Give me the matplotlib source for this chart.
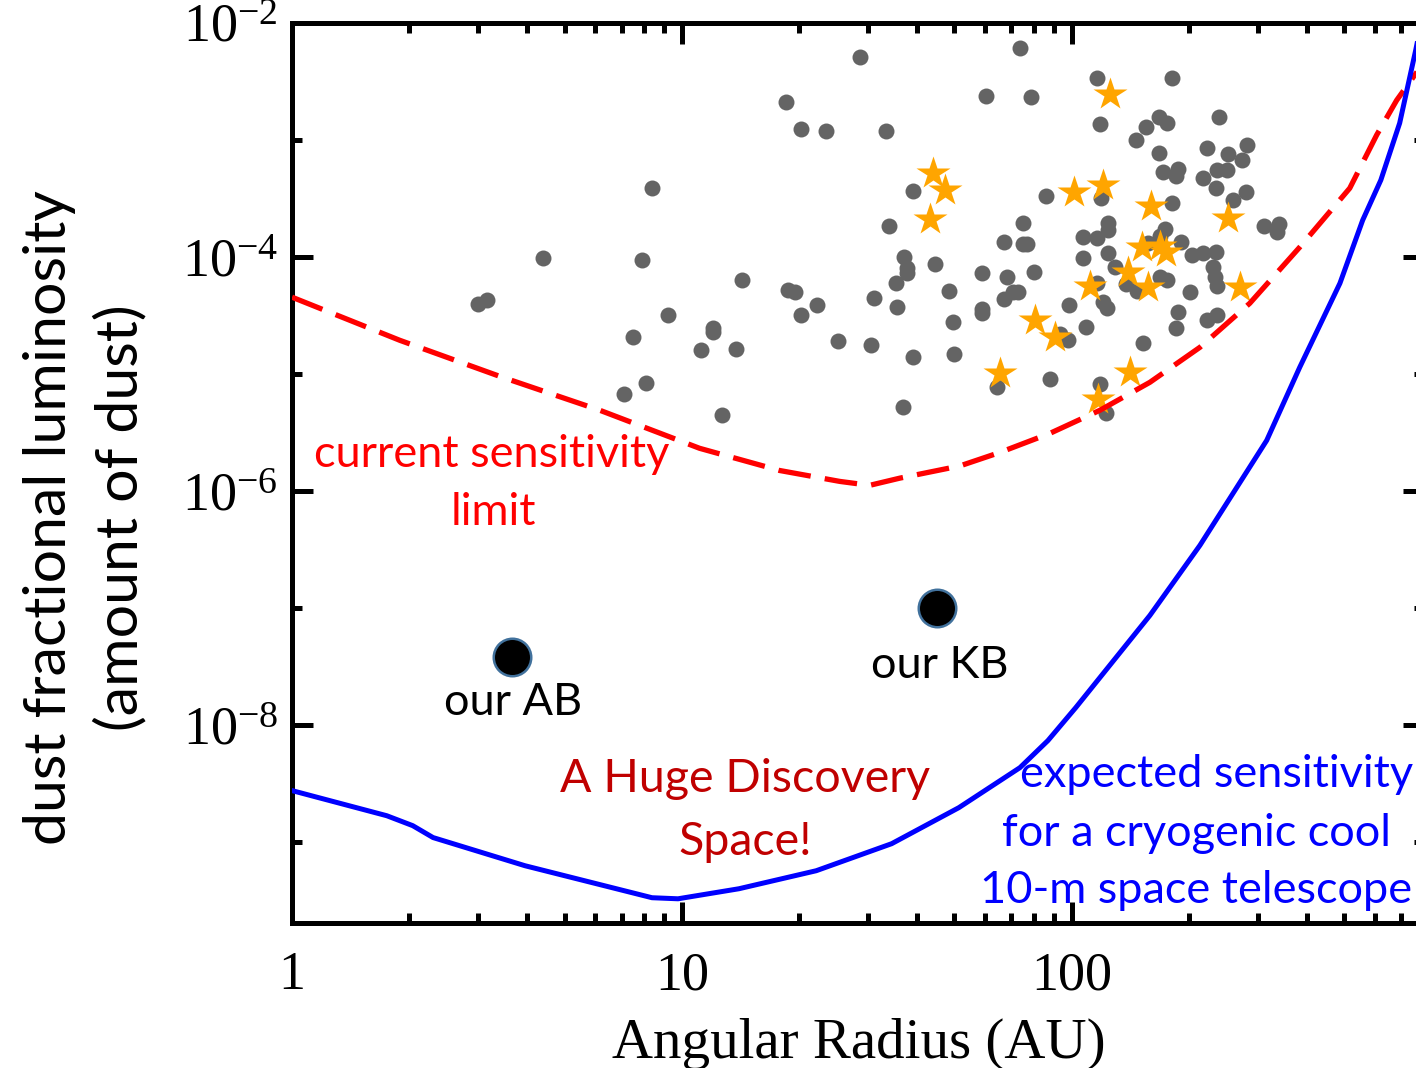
import matplotlib
matplotlib.use("Agg")
import matplotlib.pyplot as plt
from matplotlib.ticker import FixedLocator, FixedFormatter, LogLocator, NullFormatter

# ---------------- data ----------------
# debris disks (gray circles): angular radius (AU), dust fractional luminosity
disk_radius = [3.0, 3.16, 4.4, 7.1, 7.5, 7.9, 8.1, 8.4, 9.2, 11.2, 12.0, 12.0, 12.7, 13.8, 14.3,
               18.5, 18.7, 19.5, 20.2, 20.2, 22.2, 23.4, 25.1, 28.6, 30.5, 31.1, 33.3, 34.0, 35.4,
               35.6, 36.9, 37.1, 37.8, 37.8, 39.1, 39.1, 44.6, 48.4, 49.5, 49.8, 58.8, 58.8, 58.8,
               60.2, 64.2, 66.9, 66.9, 68.1, 70.6, 72.7, 73.6, 74.9, 74.9, 76.7, 78.5, 79.9, 85.8,
               87.8, 93.2, 97.7, 98.2, 107, 107, 109, 116, 116, 116, 118, 118, 119, 120, 122, 124,
               123, 124, 124, 129, 138, 147, 146, 152, 155, 157, 167, 175, 167, 168, 173, 171, 185,
               187, 175, 168, 181, 181, 185, 187, 191, 201, 203, 217, 217, 222, 222, 230, 233, 235,
               234, 234, 235, 235, 238, 250, 251, 259, 273, 279, 282, 311, 340, 336]
disk_fraction = [4.0e-5, 4.3e-5, 9.8e-5, 6.7e-6, 2.06e-5, 9.4e-5, 8.3e-6, 3.9e-4, 3.2e-5, 1.6e-5,
                 2.46e-5, 2.3e-5, 4.5e-6, 1.63e-5, 6.3e-5, 2.1e-3, 5.2e-5, 5.0e-5, 1.23e-3, 3.2e-5,
                 3.9e-5, 1.2e-3, 1.9e-5, 5.1e-3, 1.76e-5, 4.5e-5, 1.19e-3, 1.83e-4, 6.0e-5, 3.7e-5,
                 5.2e-6, 1.0e-4, 8.0e-5, 7.3e-5, 3.65e-4, 1.39e-5, 8.7e-5, 5.1e-5, 2.8e-5, 1.47e-5,
                 7.3e-5, 3.6e-5, 3.3e-5, 2.37e-3, 7.7e-6, 1.34e-4, 4.4e-5, 6.7e-5, 5.0e-5, 5.0e-5,
                 6.1e-3, 1.94e-4, 1.29e-4, 1.29e-4, 2.3e-3, 7.5e-5, 3.3e-4, 9.0e-6, 2.2e-5, 1.95e-5,
                 3.9e-5, 1.47e-4, 9.8e-5, 2.5e-5, 3.4e-3, 1.45e-4, 6.0e-5, 1.36e-3, 8.2e-6, 3.2e-4,
                 4.1e-5, 4.6e-6, 1.08e-4, 3.65e-5, 1.94e-4, 1.69e-4, 8.2e-5, 5.85e-5, 5.1e-5, 1.0e-3,
                 1.83e-5, 1.29e-3, 1.31e-4, 1.56e-3, 1.39e-3, 7.7e-4, 1.5e-4, 1.73e-4, 5.3e-4, 4.9e-4,
                 5.6e-4, 6.3e-5, 6.7e-5, 3.4e-3, 2.9e-4, 2.46e-5, 3.4e-5, 1.34e-4, 5.0e-5, 1.03e-4,
                 1.08e-4, 4.7e-4, 8.5e-4, 2.9e-5, 8.2e-5, 6.7e-5, 5.6e-5, 1.1e-4, 3.9e-4, 5.5e-4,
                 3.2e-5, 1.56e-3, 5.5e-4, 7.5e-4, 3.05e-4, 6.7e-4, 3.6e-4, 9.0e-4, 1.83e-4, 1.9e-4,
                 1.63e-4]

# highlighted disks (orange stars)
star_radius = [44.0, 47.2, 43.2, 101, 120, 125, 160, 251, 151, 174, 139, 157, 111, 270, 80.4,
               90.4, 65.4, 141, 117, 168]
star_fraction = [5.2e-4, 3.7e-4, 2.1e-4, 3.6e-4, 4.1e-4, 2.46e-3, 2.7e-4, 2.15e-4, 1.21e-4,
                 1.1e-4, 7.5e-5, 5.5e-5, 5.6e-5, 5.5e-5, 2.9e-5, 2.06e-5, 1.01e-5, 1.04e-5,
                 6.1e-6, 1.23e-4]

# our solar system belts
solar_radius = [3.66, 45.0]
solar_fraction = [3.8e-8, 1.0e-7]
solar_labels = ["our AB", "our KB"]

# current sensitivity limit (red dashed)
current_radius = [1.0, 1.89, 3.41, 6.16, 11.1, 17.8, 25.4, 30.3, 36.2, 51.6, 65.4, 87.8, 118,
                  158.5, 213, 286, 384, 516, 605, 681, 800]
current_limit = [4.53e-5, 1.94e-5, 9.55e-6, 4.9e-6, 2.32e-6, 1.5e-6, 1.21e-6, 1.12e-6, 1.29e-6,
                 1.64e-6, 2.14e-6, 3.11e-6, 4.9e-6, 8.49e-6, 1.69e-5, 4.02e-5, 1.21e-4, 3.86e-4,
                 1.1e-3, 2.18e-3, 4.6e-3]

# expected sensitivity, cryogenic 10-m space telescope (blue)
future_radius = [1.0, 1.75, 2.04, 2.30, 3.96, 8.38, 9.77, 14.0, 22.1, 34.5, 51.3, 73.6, 86.8,
                 102.4, 158.5, 213, 316, 384, 487, 557, 620, 693, 762, 800]
future_limit = [2.77e-9, 1.69e-9, 1.39e-9, 1.1e-9, 6.32e-10, 3.37e-10, 3.3e-10, 4.02e-10,
                5.73e-10, 9.75e-10, 1.98e-9, 4.35e-9, 7.4e-9, 1.42e-8, 8.67e-8, 3.44e-7,
                2.71e-6, 1.14e-5, 5.96e-5, 2.06e-4, 4.53e-4, 1.39e-3, 5.85e-3, 1.3e-2]

x_major = [1, 10, 100]
x_major_labels = ["1", "10", "100"]
y_major = [1e-8, 1e-6, 1e-4, 1e-2]
y_major_labels = [r"$\mathregular{10^{-8}}$", r"$\mathregular{10^{-6}}$",
                  r"$\mathregular{10^{-4}}$", r"$\mathregular{10^{-2}}$"]
y_minor = [1e-9, 1e-7, 1e-5, 1e-3]

# ---------------- figure ----------------
plt.rcParams["mathtext.fontset"] = "custom"
plt.rcParams["mathtext.rm"] = "Liberation Serif"
SANS = ["Lato", "DejaVu Sans"]
SERIF = ["Liberation Serif", "DejaVu Serif"]

W, H = 1416, 1068
fig = plt.figure(figsize=(W / 100, H / 100), dpi=100)
ax = fig.add_axes([292 / W, 145 / H, 1132 / W, 900.3 / H])
ax.set_xscale("log")
ax.set_yscale("log")
ax.set_xlim(1, 800)
ax.set_ylim(2.05e-10, 1e-2)

ax.plot(disk_radius, disk_fraction, "o", ms=11.5, color="#646464", mec="none", zorder=2)
ax.plot(star_radius, star_fraction, "*", ms=25, color="#FFA500", mec="none", zorder=3)
ax.plot(current_radius, current_limit, color="#FF0000", lw=3.8,
        ls=(0, (6.2, 2.7)), dash_capstyle="butt", zorder=4)
ax.plot(future_radius, future_limit, color="#0000FF", lw=3.6, zorder=4)
ax.plot(solar_radius, solar_fraction, "o", ms=27, mfc="black", mec="#41719C", mew=1.8, zorder=5)

for s in ax.spines.values():
    s.set_linewidth(3.6)

ax.xaxis.set_major_locator(FixedLocator(x_major))
ax.xaxis.set_major_formatter(FixedFormatter(x_major_labels))
ax.xaxis.set_minor_locator(LogLocator(base=10, subs=range(2, 10), numticks=20))
ax.xaxis.set_minor_formatter(NullFormatter())
ax.yaxis.set_major_locator(FixedLocator(y_major))
ax.yaxis.set_major_formatter(FixedFormatter(y_major_labels))
ax.yaxis.set_minor_locator(FixedLocator(y_minor))
ax.yaxis.set_minor_formatter(NullFormatter())

ax.tick_params(which="both", direction="in", top=True, right=True, width=3.6)
ax.tick_params(which="major", length=15)
ax.tick_params(which="minor", length=7.5)
ax.tick_params(axis="x", which="major", pad=20)
ax.tick_params(axis="y", which="major", pad=10)
for lab in ax.get_xticklabels() + ax.get_yticklabels():
    lab.set_fontfamily(SERIF)
    lab.set_fontsize(39)

def px(x, y):
    return x / W, 1 - y / H

fig.text(*px(859, 1058), "Angular Radius (AU)", family=SERIF, fontsize=41,
         ha="center", va="baseline")
fig.text(*px(85, 518), "dust fractional luminosity\n(amount of dust)", family=SANS,
         fontsize=42.5, rotation=90, ha="center", va="center", multialignment="center",
         linespacing=1.4)

TS = 32.5
fig.text(*px(492, 467), "current sensitivity", family=SANS, fontsize=TS, color="#FF0000",
         ha="center", va="baseline")
fig.text(*px(493, 525), "limit", family=SANS, fontsize=TS, color="#FF0000",
         ha="center", va="baseline")
fig.text(*px(513, 715), solar_labels[0], family=SANS, fontsize=TS, color="black",
         ha="center", va="baseline")
fig.text(*px(940, 678), solar_labels[1], family=SANS, fontsize=TS, color="black",
         ha="center", va="baseline")
fig.text(*px(745, 792), "A Huge Discovery", family=SANS, fontsize=33.5, color="#C00000",
         ha="center", va="baseline")
fig.text(*px(745, 855), "Space!", family=SANS, fontsize=33.5, color="#C00000",
         ha="center", va="baseline")
fig.text(*px(1217, 787), "expected sensitivity", family=SANS, fontsize=TS, color="#0000FF",
         ha="center", va="baseline")
fig.text(*px(1196, 846), "for a cryogenic cool", family=SANS, fontsize=TS, color="#0000FF",
         ha="center", va="baseline")
fig.text(*px(1196, 903), "10-m space telescope", family=SANS, fontsize=TS, color="#0000FF",
         ha="center", va="baseline")

fig.savefig("out.png", dpi=100)
